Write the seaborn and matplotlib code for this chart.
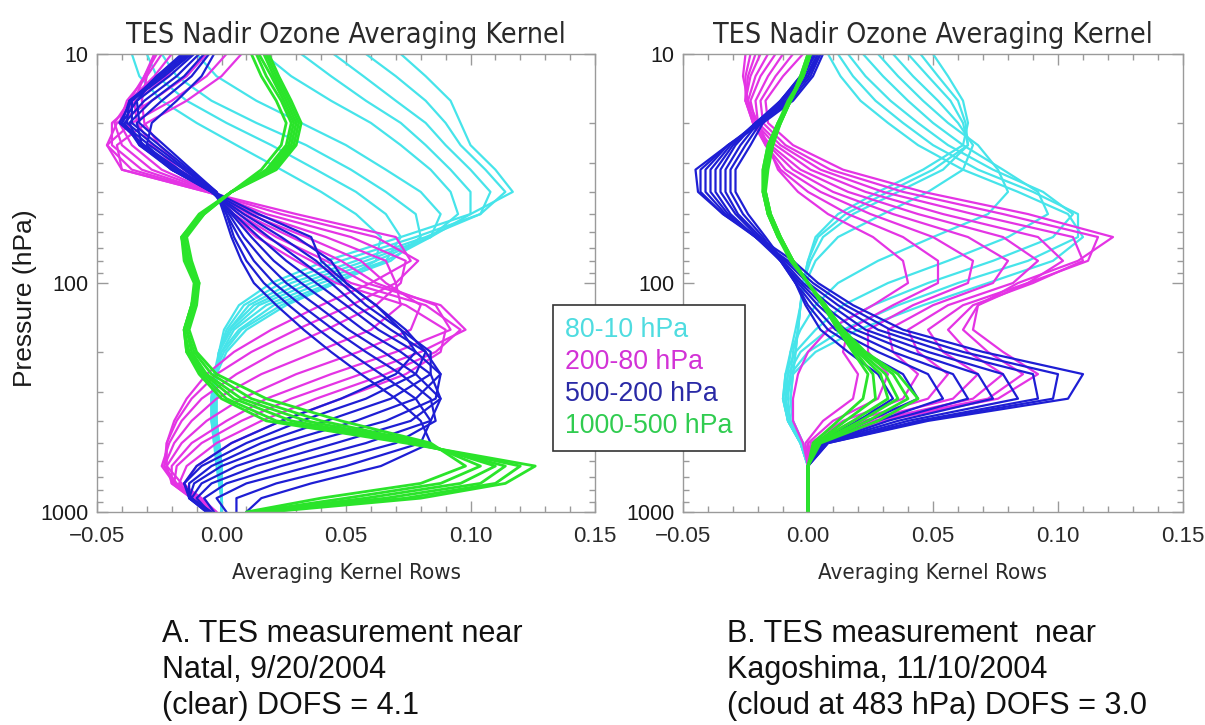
import matplotlib
matplotlib.use("Agg")
import matplotlib.pyplot as plt
import pandas as pd
import seaborn as sns
from matplotlib.ticker import FixedLocator, MultipleLocator, LogLocator, NullFormatter, FixedFormatter
from matplotlib.lines import Line2D

# ---------------- data (kernel values in units of 0.001) ----------------
pressure_hpa = [10, 12.5, 16, 20, 25, 32, 40, 50, 63, 80, 100, 125, 160, 200,
                250, 320, 400, 500, 630, 750, 870, 1000]

left_cyan = [
    [72, 82, 92, 96, 100, 110, 117, 100, 72, 42, 20, 7, 1, -1, -2, -2, -2, -1, 0, 0, 0, 0],
    [58, 70, 82, 90, 96, 106, 114, 104, 78, 48, 24, 9, 2, -1, -2, -2, -2, -1, 0, 0, 0, 0],
    [45, 57, 70, 82, 90, 100, 108, 104, 82, 54, 28, 11, 3, -1, -2, -3, -2, -1, 0, 0, 0, 0],
    [32, 44, 58, 72, 82, 92, 100, 100, 84, 58, 32, 13, 3, -1, -2, -3, -3, -1, 0, 0, 0, 0],
    [17, 28, 44, 60, 72, 84, 92, 95, 84, 62, 36, 15, 4, -1, -3, -3, -3, -2, -1, 0, 0, 0],
    [-10, -2, 14, 32, 50, 66, 80, 88, 84, 66, 40, 18, 5, 0, -3, -4, -3, -2, -1, 0, 0, 0],
    [-24, -18, -4, 14, 34, 52, 66, 78, 80, 68, 44, 21, 7, 0, -3, -4, -4, -2, -1, 0, 0, 0],
    [-30, -26, -14, 2, 20, 38, 54, 66, 72, 66, 46, 24, 8, 1, -3, -4, -4, -3, -1, -1, 0, 0],
    [-36, -33, -24, -10, 6, 24, 40, 54, 64, 62, 46, 26, 10, 2, -2, -4, -4, -3, -2, -1, 0, 0],
]
left_magenta = [
    [8, 0, -14, -30, -42, -40, -6, 30, 70, 76, 60, 40, 20, 5, -6, -14, -19, -22, -22, -16, -8, -2],
    [2, -6, -20, -36, -46, -40, -6, 24, 62, 79, 70, 52, 30, 12, -2, -12, -18, -22, -23, -18, -9, -2],
    [-6, -14, -28, -42, -46, -36, -5, 18, 52, 74, 72, 62, 42, 22, 6, -8, -16, -21, -24, -19, -10, -3],
    [-14, -22, -34, -44, -44, -32, -5, 14, 42, 66, 70, 72, 60, 38, 16, -2, -12, -19, -23, -19, -11, -3],
    [-20, -27, -37, -43, -40, -28, -4, 11, 34, 56, 66, 80, 76, 55, 30, 8, -6, -16, -22, -20, -12, -3],
    [-24, -30, -38, -41, -36, -24, -4, 9, 28, 48, 62, 86, 92, 70, 44, 18, 2, -12, -20, -20, -12, -4],
    [-26, -31, -37, -38, -32, -20, -3, 7, 22, 42, 58, 88, 98, 80, 56, 28, 8, -8, -18, -19, -12, -4],
    [-27, -31, -35, -34, -28, -17, -3, 5, 18, 36, 52, 82, 96, 86, 66, 38, 16, -2, -14, -17, -11, -4],
    [-27, -30, -32, -31, -25, -15, -2, 4, 14, 30, 46, 74, 90, 88, 74, 48, 24, 4, -10, -15, -10, -3],
]
left_blue = [
    [-3, -8, -18, -28, -30, -20, -3, 15, 36, 40, 50, 62, 72, 78, 70, 48, 24, 4, -10, -15, -12, -4],
    [-5, -12, -24, -34, -32, -20, -4, 12, 30, 44, 50, 62, 74, 82, 78, 58, 32, 10, -8, -15, -13, -5],
    [-7, -15, -28, -37, -33, -20, -4, 9, 24, 38, 48, 58, 72, 84, 84, 68, 42, 16, -4, -13, -13, -6],
    [-9, -18, -31, -39, -33, -19, -4, 7, 19, 32, 44, 54, 68, 82, 88, 78, 54, 24, 0, -11, -13, -6],
    [-11, -21, -34, -40, -32, -18, -4, 5, 15, 26, 38, 50, 63, 78, 88, 86, 66, 34, 6, -8, -12, -6],
    [-12, -23, -36, -41, -31, -17, -3, 4, 12, 21, 32, 44, 57, 72, 84, 88, 76, 46, 14, -4, -10, -5],
    [-13, -24, -37, -40, -29, -15, -3, 3, 9, 17, 26, 38, 51, 65, 78, 88, 84, 58, 24, 2, -7, -3],
    [-14, -25, -37, -38, -27, -14, -3, 2, 7, 13, 21, 32, 45, 58, 72, 84, 86, 70, 36, 10, -2, 2],
    [-15, -26, -36, -36, -25, -13, -2, 2, 5, 10, 17, 27, 39, 51, 64, 78, 84, 80, 50, 22, 6, 6],
    [-16, -26, -34, -33, -23, -12, -2, 1, 4, 8, 13, 22, 33, 44, 56, 70, 80, 84, 64, 36, 16, 10],
]
left_green = [
    [12, 16, 22, 26, 24, 16, 4, -7, -14, -12, -9, -10, -13, -10, -2, 18, 48, 84, 98, 80, 40, 10],
    [14, 18, 24, 28, 26, 18, 4, -7, -15, -13, -9, -11, -14, -11, -4, 12, 40, 82, 104, 88, 50, 12],
    [15, 20, 25, 29, 27, 19, 4, -8, -15, -13, -10, -11, -14, -12, -6, 8, 34, 80, 110, 96, 58, 14],
    [17, 21, 26, 30, 28, 20, 4, -8, -16, -14, -10, -12, -15, -13, -7, 5, 28, 78, 114, 104, 66, 15],
    [18, 22, 27, 31, 29, 21, 4, -8, -16, -14, -10, -12, -15, -14, -8, 2, 22, 76, 120, 110, 74, 17],
    [19, 23, 28, 32, 30, 22, 4, -9, -16, -15, -11, -12, -15, -14, -9, 0, 18, 74, 126, 114, 80, 19],
]

right_cyan = [
    [50, 56, 62, 64, 62, 46, 28, 12, 3, 0, -2, -3, -4, -5, -6, -7, -6, -2, 0, 0, 0, 0],
    [45, 52, 60, 63, 64, 50, 32, 15, 4, 0, -2, -3, -4, -5, -6, -7, -6, -2, 0, 0, 0, 0],
    [40, 48, 57, 62, 64, 54, 36, 18, 6, 1, -2, -3, -4, -6, -7, -8, -7, -2, 0, 0, 0, 0],
    [34, 42, 52, 60, 66, 62, 48, 30, 12, 3, -1, -3, -5, -7, -8, -9, -7, -2, 0, 0, 0, 0],
    [28, 36, 46, 56, 68, 76, 80, 72, 50, 28, 12, 3, -3, -7, -9, -10, -8, -3, 0, 0, 0, 0],
    [22, 30, 40, 50, 62, 78, 92, 96, 80, 56, 32, 14, 3, -5, -9, -10, -8, -3, 0, 0, 0, 0],
    [16, 23, 33, 44, 56, 74, 94, 106, 98, 74, 48, 26, 8, -3, -8, -10, -8, -3, 0, 0, 0, 0],
    [12, 18, 27, 38, 50, 68, 90, 108, 108, 88, 60, 36, 14, 0, -7, -9, -8, -3, 0, 0, 0, 0],
    [8, 13, 21, 32, 44, 62, 84, 104, 110, 98, 72, 46, 20, 3, -6, -9, -8, -3, 0, 0, 0, 0],
]
right_magenta = [
    [-2, -10, -17, -16, -6, 14, 46, 88, 122, 108, 84, 68, 66, 78, 92, 76, 30, 4, 0, 0, 0, 0],
    [-6, -13, -19, -18, -9, 9, 38, 78, 116, 112, 88, 68, 62, 72, 86, 72, 28, 4, 0, 0, 0, 0],
    [-10, -16, -21, -20, -11, 5, 30, 66, 106, 110, 90, 66, 56, 64, 78, 66, 26, 3, 0, 0, 0, 0],
    [-13, -19, -23, -21, -13, 1, 23, 54, 92, 102, 88, 62, 48, 54, 68, 58, 22, 3, 0, 0, 0, 0],
    [-16, -21, -24, -22, -15, -3, 16, 44, 78, 92, 82, 56, 40, 44, 56, 48, 18, 2, 0, 0, 0, 0],
    [-19, -23, -25, -22, -16, -6, 10, 34, 64, 80, 74, 50, 32, 34, 44, 38, 14, 1, 0, 0, 0, 0],
    [-21, -24, -25, -22, -17, -9, 5, 25, 50, 66, 64, 42, 24, 24, 32, 28, 10, 0, 0, 0, 0, 0],
    [-23, -25, -25, -21, -17, -11, 0, 16, 38, 52, 52, 34, 16, 14, 20, 18, 6, -1, 0, 0, 0, 0],
    [-25, -26, -24, -20, -16, -12, -4, 8, 26, 38, 40, 26, 8, 0, -4, -6, -6, -2, 0, 0, 0, 0],
]
right_blue = [
    [6, 2, -6, -18, -32, -45, -44, -34, -20, -6, 4, 18, 38, 70, 110, 104, 48, 8, 0, 0, 0, 0],
    [5, 1, -7, -19, -32, -43, -43, -34, -21, -8, 2, 15, 33, 62, 100, 98, 46, 8, 0, 0, 0, 0],
    [5, 0, -8, -20, -32, -41, -41, -33, -21, -9, 0, 12, 28, 55, 90, 92, 44, 7, 0, 0, 0, 0],
    [4, 0, -9, -21, -31, -39, -39, -32, -21, -10, -2, 9, 23, 48, 78, 84, 40, 7, 0, 0, 0, 0],
    [4, -1, -10, -21, -30, -37, -37, -31, -21, -11, -3, 6, 19, 41, 68, 74, 36, 6, 0, 0, 0, 0],
    [3, -2, -11, -21, -29, -35, -35, -29, -20, -11, -4, 4, 15, 34, 58, 64, 32, 6, 0, 0, 0, 0],
    [3, -2, -11, -20, -27, -33, -33, -28, -19, -11, -5, 2, 11, 28, 48, 54, 28, 5, 0, 0, 0, 0],
    [3, -3, -11, -19, -25, -31, -31, -26, -18, -11, -5, 0, 8, 22, 38, 44, 24, 4, 0, 0, 0, 0],
    [2, -3, -11, -18, -23, -29, -29, -24, -17, -10, -5, -1, 5, 16, 28, 34, 20, 4, 0, 0, 0, 0],
]
right_green = [
    [0, -3, -7, -11, -14, -16, -17, -15, -11, -6, 0, 6, 12, 18, 24, 22, 12, 2, 0, 0, 0, 0],
    [0, -3, -7, -11, -15, -17, -17, -15, -11, -6, 0, 6, 12, 19, 26, 27, 15, 3, 0, 0, 0, 0],
    [1, -2, -7, -11, -15, -17, -17, -15, -11, -6, 0, 6, 13, 20, 29, 32, 18, 3, 0, 0, 0, 0],
    [1, -2, -7, -12, -15, -17, -18, -16, -12, -6, 0, 6, 13, 21, 31, 36, 21, 4, 0, 0, 0, 0],
    [1, -2, -7, -12, -16, -18, -18, -16, -12, -6, 0, 7, 14, 22, 34, 40, 24, 4, 0, 0, 0, 0],
    [1, -2, -8, -12, -16, -18, -18, -16, -12, -7, 0, 7, 14, 23, 36, 44, 28, 5, 0, 0, 0, 0],
]

group_labels = ["80-10 hPa", "200-80 hPa", "500-200 hPa", "1000-500 hPa"]
line_colors = ["#46E4EA", "#E434E4", "#1E1ED4", "#2AE42A"]
legend_text_colors = ["#4FDCE0", "#D232D6", "#2A2AA6", "#30CC50"]
draw_order = [0, 1, 2, 3]

x_ticks = [-0.05, 0.0, 0.05, 0.10, 0.15]
x_tick_labels = ["\u22120.05", "0.00", "0.05", "0.10", "0.15"]
y_ticks = [10, 100, 1000]
y_tick_labels = ["10", "100", "1000"]
panel_title = "TES Nadir Ozone Averaging Kernel"
x_label = "Averaging Kernel Rows"
y_label = "Pressure (hPa)"
caption_a = ["A. TES measurement near", "Natal, 9/20/2004", "(clear) DOFS = 4.1"]
caption_b = ["B. TES measurement  near", "Kagoshima, 11/10/2004", "(cloud at 483 hPa) DOFS = 3.0"]


def to_frame(groups):
    recs = []
    for label, rows in zip(group_labels, groups):
        for i, row in enumerate(rows):
            assert len(row) == len(pressure_hpa)
            for p, v in zip(pressure_hpa, row):
                recs.append({"group": label, "row": f"{label} #{i}",
                             "pressure": p, "value": v / 1000.0})
    return pd.DataFrame(recs)


left_df = to_frame([left_cyan, left_magenta, left_blue, left_green])
right_df = to_frame([right_cyan, right_magenta, right_blue, right_green])

# ---------------- style ----------------
sns.set_theme(style="white")
plt.rcParams["font.family"] = ["Liberation Sans", "DejaVu Sans"]
plt.rcParams["axes.unicode_minus"] = True

W, H = 1205, 725
fig = plt.figure(figsize=(W / 100, H / 100), dpi=100)
fig.patch.set_facecolor("white")

title_font = dict(family=["DejaVu Sans"], fontstretch="condensed", fontsize=20.5, color="#2a2a2a")
spine_col = "#9a9a9a"


def setup_axes(rect):
    ax = fig.add_axes(rect)
    ax.set_facecolor("white")
    return ax


axL = setup_axes([97 / W, 1 - 512 / H, 498 / W, 458 / H])
axR = setup_axes([683 / W, 1 - 512 / H, 500 / W, 458 / H])

for ax, df in [(axL, left_df), (axR, right_df)]:
    for gi in draw_order:
        lab = group_labels[gi]
        sub = df[df["group"] == lab]
        sns.lineplot(data=sub, x="value", y="pressure", units="row", estimator=None,
                     sort=False, color=line_colors[gi], linewidth=2.0 if gi == 3 else 1.6,
                     legend=False, ax=ax)
    ax.set_yscale("log")
    ax.set_ylim(1000, 10)
    ax.set_xlim(-0.05, 0.15)
    ax.xaxis.set_major_locator(FixedLocator(x_ticks))
    ax.xaxis.set_major_formatter(FixedFormatter(x_tick_labels))
    ax.xaxis.set_minor_locator(MultipleLocator(0.01))
    ax.yaxis.set_major_locator(FixedLocator(y_ticks))
    ax.yaxis.set_major_formatter(FixedFormatter(y_tick_labels))
    ax.yaxis.set_minor_locator(LogLocator(base=10, subs=range(2, 10)))
    ax.yaxis.set_minor_formatter(NullFormatter())
    ax.tick_params(which="both", direction="in", top=True, right=True,
                   left=True, bottom=True, color=spine_col, width=1.0)
    ax.tick_params(which="major", length=8)
    ax.tick_params(which="minor", length=4)
    ax.tick_params(axis="x", which="major", labelsize=16, pad=10, labelcolor="#2a2a2a")
    ax.tick_params(axis="y", which="major", labelsize=15.5, pad=6, labelcolor="#1a1a1a")
    for s in ax.spines.values():
        s.set_color(spine_col)
        s.set_linewidth(1.0)
        s.set_visible(True)
    ax.set_ylabel("")
    ax.set_xlabel(x_label, fontsize=16, color="#2a2a2a",
                  family=["DejaVu Sans"], fontstretch="condensed")
    ax.xaxis.set_label_coords(0.5, -0.112)
    ax.set_title(panel_title, pad=8, **title_font)

fig.text(25 / W, 1 - 298 / H, y_label, rotation=90, ha="center", va="center",
         fontsize=19, color="#1a1a1a")

# legend in the gap between the panels
handles = [Line2D([], [], linestyle="none", marker=None) for _ in group_labels]
leg = fig.legend(handles, group_labels, loc="upper left",
                 bbox_to_anchor=(553 / W, 1 - 305 / H), borderaxespad=0,
                 handlelength=0, handletextpad=0, fontsize=19.3,
                 frameon=True, fancybox=False, framealpha=1, edgecolor="#333333",
                 borderpad=0.45, labelspacing=0.22)
leg.get_frame().set_linewidth(1.2)
for t, c in zip(leg.get_texts(), legend_text_colors):
    t.set_color(c)

for xs, lines in [(162, caption_a), (727, caption_b)]:
    for k, line in enumerate(lines):
        fig.text(xs / W, 1 - (642 + 36 * k) / H, line, ha="left", va="baseline",
                 fontsize=22, color="#111111")

fig.savefig("out.png", dpi=100)
